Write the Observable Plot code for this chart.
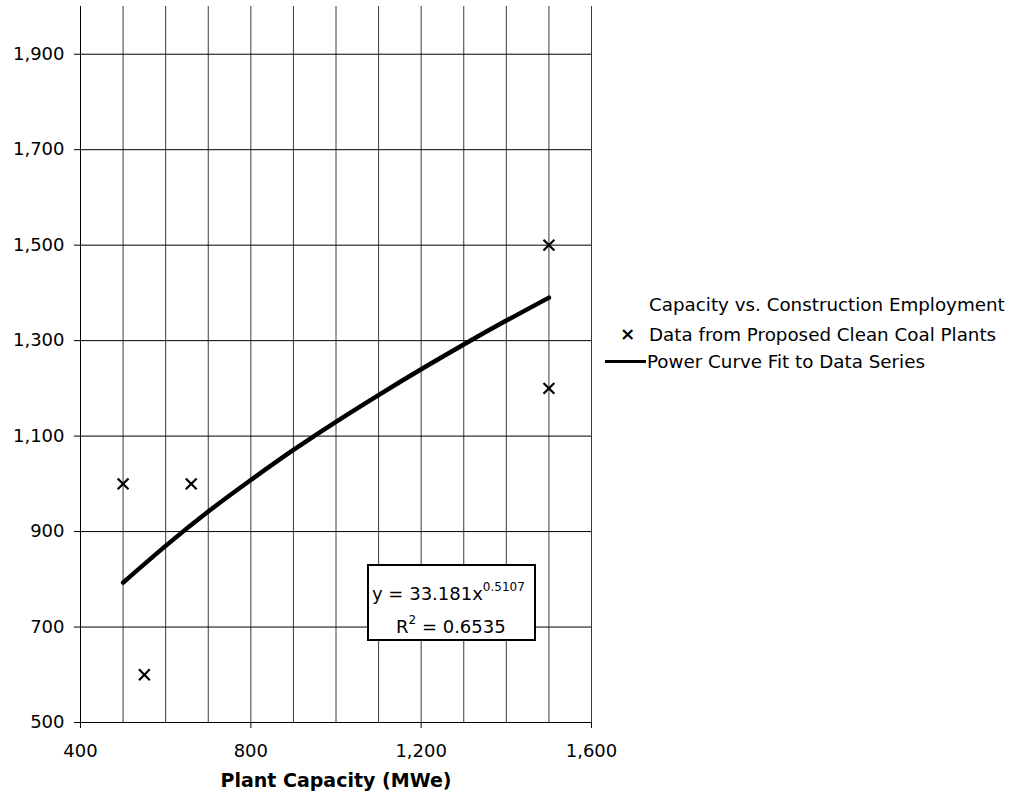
<!DOCTYPE html>
<html>
<head>
<meta charset="utf-8">
<script src="https://cdn.jsdelivr.net/npm/d3@7"></script>
<script src="https://cdn.jsdelivr.net/npm/@observablehq/plot@0.6"></script>
<style>
  html, body { margin: 0; padding: 0; background: #fff; }
  body { font-family: "DejaVu Sans", Verdana, sans-serif; }
  #wrap { position: relative; width: 1018px; height: 795px; }
  #wrap svg { position: absolute; left: 0; top: 0; }
  [aria-label="x-axis label"] text { font-weight: bold; font-size: 19px; }
  .eq { position: absolute; left: 367px; top: 564px; width: 165px; height: 73px;
        border: 2px solid #000; background: #fff; font-size: 18px; color: #000; }
  .eq div { position: absolute; white-space: nowrap; line-height: 20px; }
  .eq sup { font-size: 12px; vertical-align: 0; position: relative; top: -9px; }
  .leg { position: absolute; font-size: 18.3px; color: #000; white-space: nowrap; line-height: 22px; }
</style>
</head>
<body>
<div id="wrap"></div>
<script>
// Data points: proposed clean coal plants (capacity MWe, construction employment)
const plantCapacity = [500, 550, 660, 1500, 1500];
const employment = [1000, 600, 1000, 1500, 1200];

// Power curve fit y = 33.181 x^0.5107, read at these capacities
const fitCapacity = [500, 600, 700, 800, 900, 1000, 1100, 1200, 1300, 1400, 1500];
const fitEmployment = [793, 870, 942, 1008, 1071, 1130, 1186, 1240, 1292, 1342, 1390];

// Axis ticks and grid
const xTicks = [400, 800, 1200, 1600];
const xGrid = [400, 500, 600, 700, 800, 900, 1000, 1100, 1200, 1300, 1400, 1500, 1600];
const yTicks = [500, 700, 900, 1100, 1300, 1500, 1700, 1900];
const yGrid = [700, 900, 1100, 1300, 1500, 1700, 1900];

const points = plantCapacity.map((x, i) => ({x, y: employment[i]}));
const fit = fitCapacity.map((x, i) => ({x, y: fitEmployment[i]}));
const fmt = d3.format(",");

const chart = Plot.plot({
  width: 1018,
  height: 795,
  marginLeft: 80,
  marginRight: 427,
  marginTop: 6,
  marginBottom: 73,
  style: { fontFamily: "'DejaVu Sans', Verdana, sans-serif", fontSize: "18px", color: "#000", background: "transparent" },
  x: { domain: [400, 1600], ticks: xTicks, tickFormat: fmt, label: "Plant Capacity (MWe)", labelAnchor: "center", labelArrow: "none", tickSize: 6, tickPadding: 16, labelOffset: 64 },
  y: { domain: [500, 2000], ticks: yTicks, tickFormat: fmt, label: null, tickSize: 6, tickPadding: 10 },
  marks: [
    Plot.ruleX(xGrid, { stroke: "#3a3a3a", strokeWidth: 1 }),
    Plot.ruleY(yGrid, { stroke: "#000", strokeWidth: 1 }),
    Plot.ruleX([400], { stroke: "#000", strokeWidth: 1 }),
    Plot.ruleY([500], { stroke: "#000", strokeWidth: 1 }),
    Plot.line(fit, { x: "x", y: "y", curve: "natural", stroke: "#000", strokeWidth: 4.5, strokeLinecap: "round" }),
    Plot.dot(points, { x: "x", y: "y", symbol: "times", r: 5, stroke: "#000", strokeWidth: 2.2 })
  ]
});

const wrap = document.getElementById("wrap");
wrap.appendChild(chart);

// Equation box
const eq = document.createElement("div");
eq.className = "eq";
eq.innerHTML = '<div style="left:3px; top:18px;">y = 33.181x<sup>0.5107</sup></div>' +
               '<div style="left:27px; top:51px;">R<sup>2</sup> = 0.6535</div>';
wrap.appendChild(eq);

// Legend
const legTitle = document.createElement("div");
legTitle.className = "leg";
legTitle.style.left = "649px"; legTitle.style.top = "294px";
legTitle.textContent = "Capacity vs. Construction Employment";
wrap.appendChild(legTitle);

const leg1 = document.createElement("div");
leg1.className = "leg";
leg1.style.left = "649px"; leg1.style.top = "324px";
leg1.textContent = "Data from Proposed Clean Coal Plants";
wrap.appendChild(leg1);

const legSym = document.createElement("div");
legSym.className = "leg";
legSym.style.left = "620px"; legSym.style.top = "323px";
legSym.style.fontWeight = "bold";
legSym.textContent = "\u00d7";
wrap.appendChild(legSym);

const legLine = document.createElement("div");
legLine.style.position = "absolute";
legLine.style.left = "605px"; legLine.style.top = "360px";
legLine.style.width = "41px"; legLine.style.height = "3px";
legLine.style.background = "#000";
wrap.appendChild(legLine);

const leg2 = document.createElement("div");
leg2.className = "leg";
leg2.style.left = "647px"; leg2.style.top = "351px";
leg2.textContent = "Power Curve Fit to Data Series";
wrap.appendChild(leg2);
</script>
</body>
</html>
